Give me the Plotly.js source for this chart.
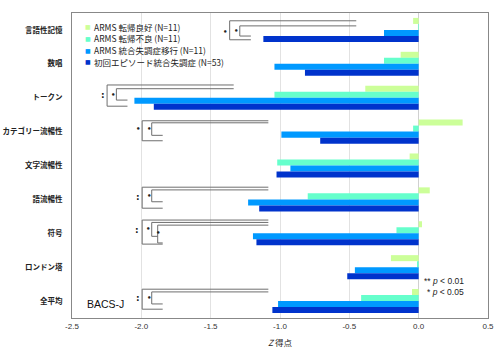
<!DOCTYPE html>
<html>
<head>
<meta charset="utf-8">
<script src="https://cdn.plot.ly/plotly-3.0.1.min.js"></script>
<style>html,body{margin:0;padding:0;background:#fff;}#chart{width:500px;height:355px;}</style>
</head>
<body>
<div id="chart"></div>
<script>
// ---- data ----
const categories = ['言語性記憶','数唱','トークン','カテゴリー流暢性','文字流暢性','語流暢性','符号','ロンドン塔','全平均'];
const seriesNames = ['ARMS 転帰良好 (N=11)','ARMS 転帰不良 (N=11)','ARMS 統合失調症移行 (N=11)','初回エピソード統合失調症 (N=53)'];
const armsGood   = [-0.04, -0.13, -0.385, 0.317, -0.065, 0.08, 0.024, -0.20, -0.048];
const armsPoor   = [-0.005, -0.25, -1.04, -0.04, -1.02, -0.80, -0.16, -0.012, -0.415];
const armsConv   = [-0.25, -1.04, -2.05, -0.99, -0.925, -1.23, -1.195, -0.46, -1.014];
const firstEp    = [-1.12, -0.82, -1.91, -0.71, -1.025, -1.15, -1.17, -0.515, -1.055];
const xTickVals  = [-2.5, -2.0, -1.5, -1.0, -0.5, 0.0, 0.5];
const xTickText  = ['-2.5','-2.0','-1.5','-1.0','-0.5','0.0','0.5'];
const sigLegend  = ['** <i>p</i> < 0.01', '* <i>p</i> < 0.05'];

// ---- styling ----
const colors = ['#ccff99','#66ffcc','#0099ff','#0033cc'];
const seriesValues = [armsGood, armsPoor, armsConv, firstEp];
const JP = '"Noto Sans CJK JP", "Noto Sans", sans-serif';
const M = {l:72, r:12, t:13, b:37};
const W = 500, H = 355;
const pw = W - M.l - M.r, ph = H - M.t - M.b;
const px = x => (x - M.l) / pw;
const py = y => (H - M.b - y) / ph;

const traces = seriesValues.map((vals, i) => ({
  type: 'bar', orientation: 'h',
  y: categories, x: vals, name: seriesNames[i],
  marker: {color: colors[i], line: {width: 0}},
  showlegend: false, hoverinfo: 'x+y'
}));

// significance brackets (annotation geometry, category-unit offsets)
const brackets = [
  {row:0, xEnd:-0.45, xb:-1.21, arms:[{x:-1.363, top:-0.27, bot:0.29},{x:-1.29, top:-0.12, bot:0.18}],
   stars:[{x:-1.40, y:0.06, n:1},{x:-1.315, y:0.02, n:1}]},
  {row:2, xEnd:-1.334, xb:-2.10, arms:[{x:-2.247, top:-0.376, bot:0.25},{x:-2.18, top:-0.266, bot:0.07}],
   stars:[{x:-2.275, y:-0.09, n:2},{x:-2.205, y:-0.08, n:1}]},
  {row:3, xEnd:-1.084, xb:-1.846, arms:[{x:-1.994, top:-0.32, bot:0.27},{x:-1.925, top:-0.26, bot:0.11}],
   stars:[{x:-2.027, y:-0.07, n:1},{x:-1.948, y:-0.07, n:1}]},
  {row:5, xEnd:-1.084, xb:-1.846, arms:[{x:-1.994, top:-0.36, bot:0.26},{x:-1.925, top:-0.28, bot:0.07}],
   stars:[{x:-2.027, y:-0.06, n:2},{x:-1.948, y:-0.10, n:1}]},
  {row:6, xEnd:-1.084, xb:-1.846, arms:[{x:-1.994, top:-0.39, bot:0.32},{x:-1.925, top:-0.32, bot:0.09, xb:-1.882},{x:-1.882, top:-0.24, bot:0.285}],
   stars:[{x:-2.032, y:-0.11, n:2},{x:-1.953, y:-0.14, n:1},{x:-1.882, y:-0.02, n:1}]},
  {row:8, xEnd:-1.084, xb:-1.846, arms:[{x:-1.994, top:-0.35, bot:0.24},{x:-1.925, top:-0.27, bot:0.085}],
   stars:[{x:-2.027, y:-0.08, n:2},{x:-1.948, y:-0.08, n:1}]}
];

const shapes = [];
const annotations = [];
const lineStyle = {color:'#6e6e6e', width:1};
brackets.forEach(b => {
  b.arms.forEach(a => {
    const y0 = b.row + a.top, y1 = b.row + a.bot;
    const xb = a.xb !== undefined ? a.xb : b.xb;
    shapes.push({type:'line', xref:'x', yref:'y', x0:a.x, x1:a.x, y0:y0, y1:y1, line:lineStyle});
    shapes.push({type:'line', xref:'x', yref:'y', x0:a.x, x1:b.xEnd, y0:y0, y1:y0, line:lineStyle});
    shapes.push({type:'line', xref:'x', yref:'y', x0:a.x, x1:xb, y0:y1, y1:y1, line:lineStyle});
  });
  b.stars.forEach(s => {
    annotations.push({
      xref:'x', yref:'y', x:s.x, y:b.row + s.y, text: s.n === 2 ? ':' : '•', showarrow:false,
      font:{family:'DejaVu Sans', size: s.n === 2 ? 9 : 7, color:'#222', weight:'bold'},
      xanchor:'center', yanchor:'middle'
    });
  });
});

// custom legend
const legRows = [27, 38.5, 50, 61.5];
seriesNames.forEach((n, i) => {
  annotations.push({xref:'paper', yref:'paper', x:px(88), y:py(legRows[i]), text:'■', showarrow:false,
    font:{family:'DejaVu Sans', size:6, color:colors[i]}, xanchor:'center', yanchor:'middle'});
  annotations.push({xref:'paper', yref:'paper', x:px(92), y:py(legRows[i]), text:n, showarrow:false,
    font:{family:JP, size:8.5, color:'#222'}, xanchor:'left', yanchor:'middle'});
});

annotations.push({xref:'paper', yref:'paper', x:px(85), y:py(303.5), text:'BACS-J', showarrow:false,
  font:{family:'Liberation Sans, Arial', size:10.5, color:'#111'}, xanchor:'left', yanchor:'middle'});
annotations.push({xref:'paper', yref:'paper', x:px(466), y:py(281), text:sigLegend[0], showarrow:false,
  font:{family:'Liberation Sans, Arial', size:8.5, color:'#222'}, xanchor:'right', yanchor:'middle'});
annotations.push({xref:'paper', yref:'paper', x:px(466), y:py(292), text:sigLegend[1], showarrow:false,
  font:{family:'Liberation Sans, Arial', size:8.5, color:'#222'}, xanchor:'right', yanchor:'middle'});

const layout = {
  width: W, height: H,
  margin: M,
  paper_bgcolor:'#fff', plot_bgcolor:'#fff',
  barmode:'group', bargap:0.29, bargroupgap:0,
  showlegend:false,
  xaxis: {
    range:[-2.5, 0.5], tickvals:xTickVals, ticktext:xTickText,
    showgrid:true, gridcolor:'#e2e2e2', gridwidth:1,
    zeroline:true, zerolinecolor:'#d0d0d0', zerolinewidth:1,
    showline:true, mirror:true, linecolor:'#888', linewidth:1,
    ticks:'', tickfont:{family:'Liberation Sans, Arial', size:8, color:'#333'},
    title:{text:'<i>Z</i> 得点', font:{family:JP, size:8.5, color:'#222'}, standoff:10},
    fixedrange:true
  },
  yaxis: {
    type:'category', autorange:'reversed',
    showgrid:false, zeroline:false,
    showline:true, mirror:true, linecolor:'#888', linewidth:1,
    ticks:'', ticklabelstandoff:7,
    tickfont:{family:JP, size:7.5, color:'#222', weight:'bold'},
    fixedrange:true
  },
  shapes: shapes,
  annotations: annotations
};

Plotly.newPlot('chart', traces, layout, {displayModeBar:false, staticPlot:true});
</script>
</body>
</html>
